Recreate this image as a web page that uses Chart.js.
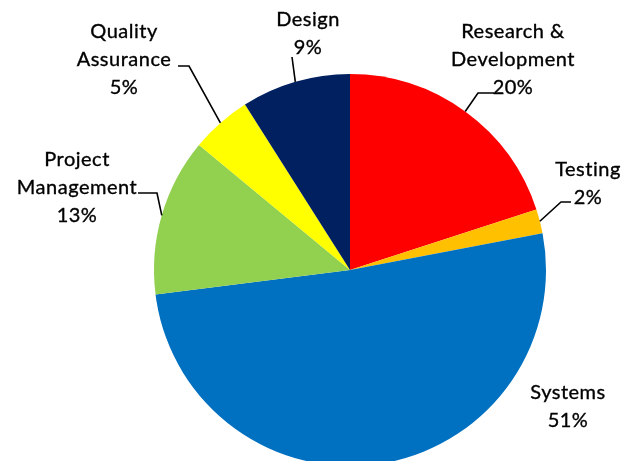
<!DOCTYPE html>
<html lang="en">
<head>
  <meta charset="UTF-8">
  <title>Effort by Area</title>
  <script src="https://cdn.jsdelivr.net/npm/chart.js"></script>
  <style>
    html, body { margin: 0; padding: 0; background: #fff; overflow: hidden; }
    #wrap { position: relative; width: 631px; height: 480px; }
  </style>
</head>
<body>
  <div id="wrap"><canvas id="pie"></canvas></div>

  <script>
    // data
    const categories = ['Research & Development', 'Testing', 'Systems', 'Project Management', 'Quality Assurance', 'Design'];
    const shares = [20, 2, 51, 13, 5, 9];
    const colors = ['#FF0000', '#FFC000', '#0070C0', '#92D050', '#FFFF00', '#002060'];

    // label text lines, and where each label / leader goes (style only)
    const labelLines = [
      ['Research &', 'Development'],
      ['Testing'],
      ['Systems'],
      ['Project', 'Management'],
      ['Quality', 'Assurance'],
      ['Design']
    ];
    const labelStyle = [
      { x: 513, y: 32, leader: [[478, 93], [494, 93]] },
      { x: 588, y: 170, leader: [[561, 202], [571, 202]] },
      { x: 568, y: 393, leader: null },
      { x: 77, y: 160, leader: [[157, 193], [138, 193]] },
      { x: 124, y: 32, leader: [[189, 66], [178, 66]] },
      { x: 308, y: 20, leader: [[292, 57]] }
    ];

    const labelPlugin = {
      id: 'pieLabels',
      afterDatasetsDraw(chart) {
        const ctx = chart.ctx;
        const meta = chart.getDatasetMeta(0);
        const total = shares.reduce((a, b) => a + b, 0);
        ctx.save();
        ctx.font = '20px Lato';
        ctx.letterSpacing = '0.5px';
        ctx.fillStyle = '#000';
        ctx.strokeStyle = '#000';
        ctx.textAlign = 'center';
        ctx.textBaseline = 'middle';
        meta.data.forEach((arc, i) => {
          const st = labelStyle[i];
          const lines = labelLines[i].concat([Math.round(shares[i] / total * 100) + '%']);
          lines.forEach((t, k) => {
            ctx.lineWidth = 0.35;
            ctx.fillText(t, st.x, st.y + k * 28);
            ctx.strokeText(t, st.x, st.y + k * 28);
          });
          if (st.leader) {
            const mid = (arc.startAngle + arc.endAngle) / 2;
            const sx = arc.x + Math.cos(mid) * arc.outerRadius;
            const sy = arc.y + Math.sin(mid) * arc.outerRadius;
            ctx.beginPath();
            ctx.moveTo(sx, sy);
            st.leader.forEach(p => ctx.lineTo(p[0], p[1]));
            ctx.lineWidth = 1.6;
            ctx.stroke();
          }
        });
        ctx.restore();
      }
    };

    new Chart(document.getElementById('pie'), {
      type: 'pie',
      data: {
        labels: categories,
        datasets: [{
          data: shares,
          backgroundColor: colors,
          borderWidth: 0
        }]
      },
      options: {
        responsive: true,
        maintainAspectRatio: false,
        animation: false,
        layout: { padding: { top: 74, bottom: 14, left: 154, right: 85 } },
        plugins: {
          legend: { display: false },
          tooltip: { enabled: false }
        }
      },
      plugins: [labelPlugin]
    });
  </script>
</body>
</html>
